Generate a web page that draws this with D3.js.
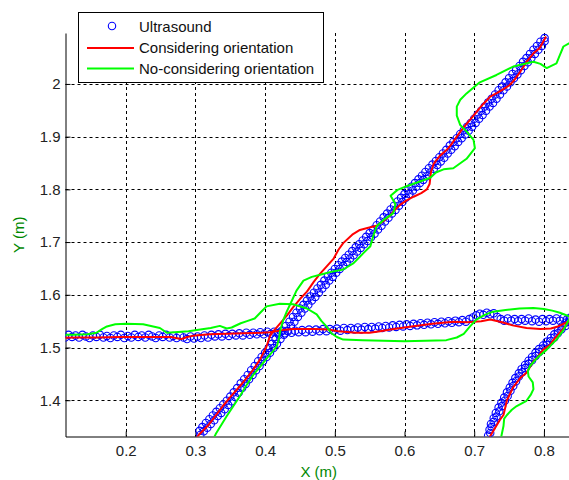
<!DOCTYPE html>
<html>
<head>
<meta charset="utf-8">
<script src="https://cdn.jsdelivr.net/npm/d3@7"></script>
<style>
body { margin: 0; background: #fff; }
svg { display: block; font-family: "Liberation Sans", Arial, sans-serif; }
</style>
</head>
<body>
<div id="chart"></div>
<script>
const xTicks = [0.2, 0.3, 0.4, 0.5, 0.6, 0.7, 0.8];
const yTicks = [1.4, 1.5, 1.6, 1.7, 1.8, 1.9, 2];
const seriesNames = ["Ultrasound", "Considering orientation", "No-considering orientation"];

// ultrasound readings, three passes
const ultrasoundA = [
  [0.307,1.334],[0.306,1.342],[0.312,1.341],[0.310,1.349],[0.317,1.348],[0.315,1.357],[0.322,1.355],[0.320,1.364],
  [0.327,1.362],[0.325,1.371],[0.332,1.370],[0.330,1.378],[0.337,1.376],[0.335,1.385],[0.342,1.383],[0.340,1.392],
  [0.347,1.391],[0.345,1.399],[0.352,1.398],[0.350,1.407],[0.357,1.406],[0.355,1.415],[0.362,1.414],[0.360,1.423],
  [0.367,1.423],[0.365,1.432],[0.372,1.431],[0.370,1.440],[0.377,1.440],[0.375,1.448],[0.382,1.448],[0.380,1.457],
  [0.387,1.457],[0.385,1.465],[0.392,1.465],[0.390,1.474],[0.397,1.474],[0.395,1.482],[0.402,1.482],[0.400,1.490],
  [0.407,1.490],[0.405,1.499],[0.412,1.499],[0.410,1.507],[0.417,1.507],[0.415,1.516],[0.422,1.516],[0.420,1.524],
  [0.427,1.524],[0.425,1.532],[0.432,1.532],[0.430,1.541],[0.437,1.541],[0.435,1.549],[0.442,1.549],[0.440,1.558],
  [0.447,1.558],[0.445,1.566],[0.452,1.566],[0.450,1.574],[0.457,1.574],[0.455,1.581],[0.462,1.581],[0.460,1.589],
  [0.467,1.589],[0.465,1.597],[0.472,1.596],[0.470,1.604],[0.477,1.604],[0.475,1.612],[0.482,1.612],[0.480,1.619],
  [0.487,1.619],[0.485,1.627],[0.492,1.627],[0.490,1.635],[0.497,1.634],[0.495,1.642],[0.502,1.642],[0.500,1.649],
  [0.507,1.649],[0.505,1.656],[0.512,1.655],[0.510,1.663],[0.517,1.662],[0.515,1.670],[0.522,1.669],[0.520,1.676],
  [0.527,1.675],[0.525,1.683],[0.532,1.682],[0.530,1.690],[0.537,1.689],[0.535,1.696],[0.542,1.696],[0.540,1.703],
  [0.547,1.702],[0.545,1.710],[0.552,1.709],[0.550,1.717],[0.557,1.716],[0.555,1.724],[0.562,1.724],[0.560,1.732],
  [0.567,1.731],[0.565,1.739],[0.572,1.739],[0.570,1.747],[0.577,1.746],[0.575,1.754],[0.582,1.754],[0.580,1.762],
  [0.587,1.761],[0.585,1.769],[0.592,1.769],[0.590,1.777],[0.597,1.776],[0.595,1.784],[0.602,1.784],[0.600,1.791],
  [0.607,1.791],[0.605,1.798],[0.612,1.798],[0.610,1.805],[0.617,1.805],[0.615,1.812],[0.622,1.812],[0.620,1.819],
  [0.627,1.818],[0.625,1.826],[0.632,1.825],[0.630,1.833],[0.637,1.832],[0.635,1.840],[0.642,1.839],[0.640,1.847],
  [0.647,1.846],[0.645,1.854],[0.652,1.853],[0.650,1.861],[0.657,1.860],[0.655,1.868],[0.662,1.868],[0.660,1.875],
  [0.667,1.875],[0.665,1.883],[0.672,1.882],[0.670,1.890],[0.677,1.890],[0.675,1.897],[0.682,1.897],[0.680,1.905],
  [0.687,1.904],[0.685,1.912],[0.692,1.911],[0.690,1.919],[0.697,1.919],[0.695,1.926],[0.702,1.926],[0.700,1.934],
  [0.707,1.934],[0.705,1.942],[0.712,1.941],[0.710,1.949],[0.717,1.949],[0.715,1.957],[0.722,1.957],[0.720,1.965],
  [0.727,1.964],[0.725,1.972],[0.732,1.972],[0.730,1.980],[0.737,1.980],[0.735,1.988],[0.742,1.988],[0.740,1.995],
  [0.747,1.995],[0.745,2.003],[0.752,2.003],[0.750,2.011],[0.757,2.011],[0.755,2.019],[0.762,2.018],[0.760,2.026],
  [0.767,2.026],[0.765,2.034],[0.772,2.034],[0.770,2.042],[0.777,2.041],[0.775,2.049],[0.782,2.049],[0.780,2.057],
  [0.787,2.057],[0.785,2.065],[0.792,2.065],[0.790,2.072],[0.797,2.072],[0.795,2.080],[0.801,2.081],[0.801,2.087]
];
const ultrasoundB = [
  [0.108,1.523],[0.113,1.519],[0.118,1.524],[0.123,1.520],[0.128,1.523],[0.133,1.519],[0.138,1.524],[0.143,1.521],
  [0.148,1.518],[0.153,1.523],[0.158,1.520],[0.163,1.524],[0.168,1.519],[0.173,1.522],[0.178,1.518],[0.183,1.523],
  [0.188,1.520],[0.193,1.524],[0.198,1.518],[0.203,1.522],[0.208,1.519],[0.213,1.524],[0.218,1.520],[0.223,1.523],
  [0.228,1.519],[0.233,1.524],[0.238,1.521],[0.243,1.518],[0.248,1.523],[0.253,1.520],[0.258,1.524],[0.263,1.519],
  [0.268,1.522],[0.273,1.518],[0.278,1.523],[0.283,1.519],[0.288,1.516],[0.293,1.521],[0.298,1.517],[0.303,1.521],
  [0.308,1.518],[0.313,1.523],[0.318,1.519],[0.323,1.524],[0.328,1.521],[0.333,1.525],[0.338,1.521],[0.343,1.526],
  [0.348,1.522],[0.353,1.526],[0.358,1.523],[0.363,1.527],[0.368,1.523],[0.373,1.528],[0.378,1.524],[0.383,1.528],
  [0.388,1.525],[0.393,1.529],[0.398,1.525],[0.403,1.530],[0.408,1.526],[0.413,1.530],[0.418,1.527],[0.423,1.531],
  [0.428,1.527],[0.433,1.531],[0.438,1.528],[0.443,1.532],[0.448,1.529],[0.453,1.533],[0.458,1.529],[0.463,1.534],
  [0.468,1.530],[0.473,1.534],[0.478,1.531],[0.483,1.535],[0.488,1.531],[0.493,1.535],[0.498,1.532],[0.503,1.536],
  [0.508,1.532],[0.513,1.537],[0.518,1.533],[0.523,1.537],[0.528,1.534],[0.533,1.538],[0.538,1.534],[0.543,1.539],
  [0.548,1.535],[0.553,1.539],[0.558,1.536],[0.563,1.540],[0.568,1.537],[0.573,1.541],[0.578,1.538],[0.583,1.542],
  [0.588,1.539],[0.593,1.543],[0.598,1.540],[0.603,1.544],[0.608,1.541],[0.613,1.545],[0.618,1.542],[0.623,1.546],
  [0.628,1.543],[0.633,1.547],[0.638,1.544],[0.643,1.548],[0.648,1.545],[0.653,1.549],[0.658,1.546],[0.663,1.550],
  [0.668,1.547],[0.673,1.551],[0.678,1.548],[0.683,1.552],[0.688,1.549],[0.693,1.554],[0.698,1.557],[0.703,1.561],
  [0.708,1.564],[0.713,1.562],[0.718,1.566],[0.723,1.563],[0.728,1.565],[0.733,1.558],[0.738,1.554],[0.743,1.551],
  [0.748,1.555],[0.753,1.551],[0.758,1.554],[0.763,1.550],[0.768,1.554],[0.773,1.551],[0.778,1.555],[0.783,1.550],
  [0.788,1.553],[0.793,1.549],[0.798,1.554],[0.803,1.550],[0.808,1.554],[0.813,1.551],[0.818,1.555],[0.823,1.551],
  [0.828,1.556],[0.833,1.553],[0.838,1.557],[0.843,1.554],[0.848,1.558]
];
const ultrasoundC = [
  [0.720,1.333],[0.723,1.338],[0.722,1.344],[0.725,1.349],[0.724,1.355],[0.728,1.359],[0.728,1.366],[0.732,1.369],
  [0.731,1.376],[0.736,1.379],[0.735,1.386],[0.740,1.389],[0.739,1.395],[0.744,1.399],[0.743,1.405],[0.748,1.408],
  [0.747,1.415],[0.752,1.418],[0.751,1.424],[0.756,1.427],[0.755,1.433],[0.760,1.436],[0.759,1.442],[0.764,1.445],
  [0.764,1.451],[0.769,1.453],[0.768,1.459],[0.773,1.461],[0.773,1.467],[0.778,1.469],[0.778,1.475],[0.783,1.476],
  [0.783,1.482],[0.788,1.484],[0.788,1.490],[0.793,1.491],[0.793,1.497],[0.798,1.498],[0.799,1.504],[0.804,1.505],
  [0.804,1.511],[0.809,1.512],[0.810,1.518],[0.815,1.519],[0.815,1.525],[0.820,1.527],[0.820,1.532],[0.825,1.534],
  [0.826,1.540],[0.831,1.541],[0.831,1.547],[0.836,1.549],[0.837,1.555],[0.842,1.557],[0.843,1.563],[0.847,1.566]
];

// estimate with orientation
const considerA = [
  [0.300,1.326],[0.306,1.336],[0.318,1.352],[0.331,1.374],[0.340,1.390],[0.350,1.406],[0.364,1.427],[0.374,1.443],
  [0.383,1.458],[0.393,1.478],[0.402,1.502],[0.407,1.522],[0.412,1.531],[0.421,1.545],[0.432,1.562],[0.440,1.576],
  [0.450,1.592],[0.460,1.606],[0.470,1.625],[0.479,1.640],[0.489,1.655],[0.498,1.668],[0.505,1.685],[0.512,1.698],
  [0.525,1.714],[0.536,1.723],[0.548,1.727],[0.560,1.731],[0.570,1.740],[0.579,1.750],[0.587,1.762],[0.594,1.771],
  [0.603,1.779],[0.613,1.786],[0.624,1.793],[0.632,1.800],[0.636,1.810],[0.637,1.822],[0.638,1.833],[0.642,1.849],
  [0.651,1.864],[0.660,1.874],[0.667,1.885],[0.675,1.900],[0.684,1.916],[0.694,1.932],[0.704,1.948],[0.713,1.962],
  [0.723,1.976],[0.733,1.983],[0.742,1.990],[0.750,1.997],[0.756,2.005],[0.761,2.014],[0.766,2.023],[0.771,2.033],
  [0.775,2.042],[0.780,2.050],[0.785,2.058],[0.794,2.068],[0.799,2.080],[0.803,2.090]
];
const considerB = [
  [0.105,1.518],[0.130,1.519],[0.160,1.519],[0.190,1.520],[0.220,1.520],[0.250,1.520],[0.265,1.520],[0.272,1.518],
  [0.280,1.516],[0.288,1.520],[0.300,1.523],[0.320,1.525],[0.345,1.526],[0.370,1.527],[0.395,1.528],[0.407,1.529],
  [0.425,1.533],[0.440,1.535],[0.470,1.535],[0.490,1.534],[0.505,1.531],[0.530,1.528],[0.550,1.528],[0.565,1.531],
  [0.580,1.534],[0.610,1.540],[0.640,1.545],[0.670,1.549],[0.690,1.548],[0.710,1.550],[0.723,1.553],[0.740,1.548],
  [0.755,1.542],[0.775,1.537],[0.795,1.535],[0.810,1.536],[0.820,1.540],[0.830,1.546],[0.836,1.550],[0.845,1.556]
];
const considerC = [
  [0.721,1.326],[0.723,1.332],[0.737,1.363],[0.742,1.372],[0.747,1.400],[0.756,1.425],[0.766,1.442],[0.775,1.452],
  [0.785,1.474],[0.790,1.480],[0.799,1.496],[0.809,1.505],[0.814,1.515],[0.828,1.536],[0.836,1.550],[0.845,1.560]
];

// estimate without orientation
const noConsiderA = [
  [0.324,1.322],[0.330,1.338],[0.345,1.370],[0.355,1.390],[0.364,1.408],[0.373,1.428],[0.383,1.448],[0.393,1.464],
  [0.402,1.479],[0.412,1.494],[0.417,1.503],[0.420,1.518],[0.422,1.534],[0.426,1.552],[0.431,1.568],[0.437,1.585],
  [0.445,1.608],[0.455,1.627],[0.467,1.634],[0.479,1.638],[0.493,1.643],[0.512,1.648],[0.527,1.660],[0.541,1.679],
  [0.551,1.692],[0.555,1.711],[0.560,1.730],[0.570,1.742],[0.584,1.755],[0.587,1.772],[0.580,1.788],[0.590,1.799],
  [0.603,1.806],[0.622,1.815],[0.637,1.822],[0.645,1.832],[0.656,1.838],[0.670,1.840],[0.689,1.858],[0.701,1.878],
  [0.699,1.894],[0.689,1.910],[0.680,1.922],[0.675,1.940],[0.675,1.957],[0.680,1.970],[0.689,1.982],[0.708,2.003],
  [0.732,2.017],[0.756,2.033],[0.785,2.042],[0.795,2.038],[0.804,2.030],[0.818,2.039],[0.823,2.055],[0.828,2.071],
  [0.836,2.077],[0.848,2.083]
];
const noConsiderB = [
  [0.105,1.524],[0.125,1.524],[0.145,1.525],[0.158,1.528],[0.166,1.535],[0.173,1.540],[0.185,1.544],[0.201,1.545],
  [0.225,1.544],[0.249,1.537],[0.259,1.528],[0.270,1.529],[0.290,1.531],[0.307,1.534],[0.322,1.537],[0.335,1.541],
  [0.345,1.536],[0.352,1.538],[0.365,1.546],[0.374,1.550],[0.385,1.555],[0.393,1.566],[0.402,1.578],[0.421,1.583],
  [0.440,1.582],[0.460,1.574],[0.474,1.563],[0.481,1.550],[0.488,1.540],[0.495,1.527],[0.503,1.520],[0.512,1.515],
  [0.540,1.514],[0.570,1.513],[0.600,1.512],[0.630,1.513],[0.660,1.514],[0.675,1.519],[0.685,1.526],[0.694,1.540],
  [0.703,1.553],[0.715,1.562],[0.727,1.568],[0.745,1.571],[0.765,1.574],[0.785,1.575],[0.800,1.573],[0.812,1.570],
  [0.823,1.566],[0.836,1.559],[0.848,1.553]
];
const noConsiderC = [
  [0.739,1.322],[0.739,1.332],[0.742,1.351],[0.743,1.365],[0.747,1.372],[0.754,1.382],[0.761,1.389],[0.775,1.399],
  [0.781,1.410],[0.785,1.421],[0.784,1.434],[0.778,1.445],[0.777,1.455],[0.780,1.465],[0.790,1.480],[0.804,1.496],
  [0.818,1.515],[0.828,1.533],[0.836,1.553],[0.846,1.568]
];

const width = 569, height = 480;
const plot = {left: 65.5, right: 572, top: 33, bottom: 436.5};
const blue = "#0000ff", red = "#ff0000", green = "#00ff00", labelGreen = "#008800";

const svg = d3.select("#chart")
    .append("svg")
    .attr("width", width)
    .attr("height", height);

const x = d3.scaleLinear().domain([0.1136, 0.8403]).range([plot.left, plot.right]);
const y = d3.scaleLinear().domain([1.3312, 2.0966]).range([plot.bottom, plot.top]);

// dotted grid
const grid = svg.append("g")
    .attr("stroke", "#000")
    .attr("stroke-width", 1)
    .attr("stroke-dasharray", "3,3");
grid.selectAll(".gx").data(xTicks).join("line")
    .attr("x1", d => Math.round(x(d)) + 0.5).attr("x2", d => Math.round(x(d)) + 0.5)
    .attr("y1", plot.top).attr("y2", plot.bottom);
grid.selectAll(".gy").data(yTicks).join("line")
    .attr("y1", d => Math.round(y(d)) + 0.5).attr("y2", d => Math.round(y(d)) + 0.5)
    .attr("x1", plot.left).attr("x2", plot.right);

// axes, ticks inside
const xAxis = svg.append("g")
    .attr("transform", "translate(0," + plot.bottom + ")")
    .call(d3.axisBottom(x).tickValues(xTicks).tickFormat(d3.format("")).tickSize(-5).tickSizeOuter(0).tickPadding(9));
const yAxis = svg.append("g")
    .attr("transform", "translate(" + plot.left + ",0)")
    .call(d3.axisLeft(y).tickValues(yTicks).tickFormat(d3.format("")).tickSize(-5).tickSizeOuter(0).tickPadding(5));
[xAxis, yAxis].forEach(a => {
    a.selectAll("text").style("font-size", "15px").style("fill", "#222").style("font-family", "'Liberation Sans', Arial, sans-serif");
    a.select(".domain").attr("stroke", "#000");
    a.selectAll(".tick line").attr("stroke", "#000");
});

svg.append("text")
    .attr("x", (plot.left + plot.right) / 2)
    .attr("y", 477)
    .attr("text-anchor", "middle")
    .style("font-size", "15px")
    .style("fill", labelGreen)
    .text("X (m)");
svg.append("text")
    .attr("transform", "translate(23.5," + ((plot.top + plot.bottom) / 2) + ") rotate(-90)")
    .attr("text-anchor", "middle")
    .style("font-size", "15px")
    .style("fill", labelGreen)
    .text("Y (m)");

// data, clipped to the axes box
svg.append("clipPath").attr("id", "plotClip")
    .append("rect")
    .attr("x", plot.left).attr("y", plot.top)
    .attr("width", plot.right - plot.left).attr("height", plot.bottom - plot.top);
const dataG = svg.append("g").attr("clip-path", "url(#plotClip)");

const line = d3.line().x(d => x(d[0])).y(d => y(d[1]));

[ultrasoundA, ultrasoundB, ultrasoundC].forEach(seg => {
    dataG.append("g").selectAll("circle")
        .data(seg)
        .join("circle")
        .attr("cx", d => x(d[0]))
        .attr("cy", d => y(d[1]))
        .attr("r", 3.7)
        .attr("fill", "none")
        .attr("stroke", blue)
        .attr("stroke-width", 1.1);
});
[considerA, considerB, considerC].forEach(seg => {
    dataG.append("path").datum(seg)
        .attr("d", line)
        .attr("fill", "none")
        .attr("stroke", red)
        .attr("stroke-width", 2)
        .attr("stroke-linejoin", "round");
});
[noConsiderA, noConsiderB, noConsiderC].forEach(seg => {
    dataG.append("path").datum(seg)
        .attr("d", line)
        .attr("fill", "none")
        .attr("stroke", green)
        .attr("stroke-width", 2)
        .attr("stroke-linejoin", "round");
});

// legend
const legend = svg.append("g");
legend.append("rect")
    .attr("x", 78.5).attr("y", 12.5)
    .attr("width", 245).attr("height", 70)
    .attr("fill", "#fff").attr("stroke", "#000");
legend.append("circle")
    .attr("cx", 112).attr("cy", 26).attr("r", 3.7)
    .attr("fill", "none").attr("stroke", blue).attr("stroke-width", 1.1);
legend.append("line")
    .attr("x1", 87).attr("x2", 134).attr("y1", 48).attr("y2", 48)
    .attr("stroke", red).attr("stroke-width", 2);
legend.append("line")
    .attr("x1", 87).attr("x2", 134).attr("y1", 68.5).attr("y2", 68.5)
    .attr("stroke", green).attr("stroke-width", 2);
legend.selectAll(".lt").data(seriesNames).join("text")
    .attr("x", 139)
    .attr("y", (d, i) => 32 + i * 21)
    .style("font-size", "15px")
    .style("fill", "#111")
    .text(d => d);
</script>
</body>
</html>
